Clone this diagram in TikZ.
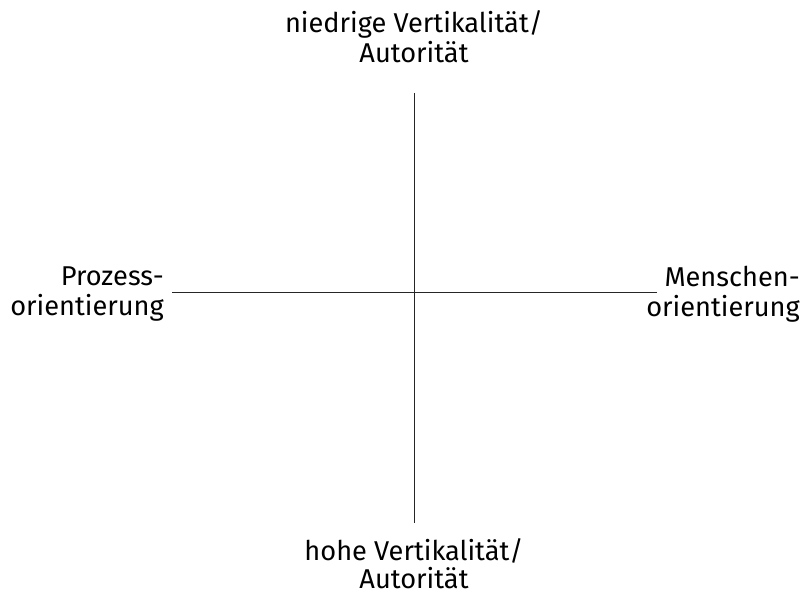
\documentclass[tikz,border=0pt]{standalone}
\usepackage{fontspec}
\setmainfont{Fira Sans}
\begin{document}
\begin{tikzpicture}[x=1pt,y=-1pt,
  lbl/.style={inner sep=0pt, font=\fontsize{27.2}{30}\selectfont, anchor=base},
  lblr/.style={lbl, anchor=base east},
  axis/.style={line width=1pt, draw=black!85}]
\useasboundingbox (0,0) rectangle (804,593);
\coordinate (vt) at (414,93);
\coordinate (vb) at (414,523);
\coordinate (hl) at (172,293);
\coordinate (hr) at (657,293);
\draw[axis] (vt) -- (vb);
\draw[axis] (hl) -- (hr);
\node[lbl] (top1) at (414,33) {niedrige Vertikalität/};
\node[lbl] (top2) at (414,63) {Autorität};
\node[lbl] (bot1) at (414,561) {hohe Vertikalität/};
\node[lbl] (bot2) at (414,589) {Autorität};
\node[lblr] (left1) at (164,286) {Prozess-};
\node[lblr] (left2) at (164,316) {orientierung};
\node[lblr] (right1) at (800,287) {Menschen-};
\node[lblr] (right2) at (800,317) {orientierung};
\end{tikzpicture}
\end{document}
